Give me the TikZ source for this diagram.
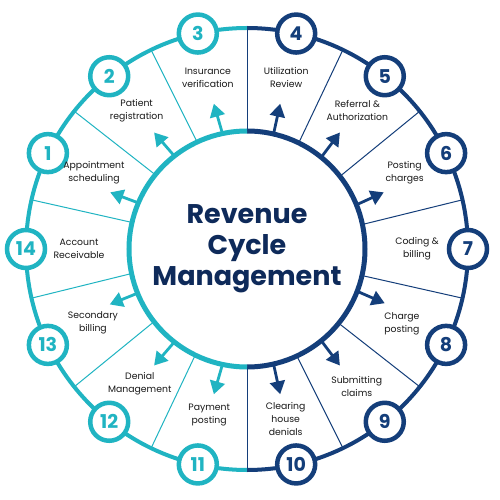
\documentclass[tikz,border=0pt]{standalone}
\usepackage{fontspec}
\setmainfont{Poppins}
\usetikzlibrary{arrows.meta}
\newlength{\du}
\setlength{\du}{1pt}
\definecolor{rcmteal}{RGB}{32,180,194}
\definecolor{rcmnavy}{RGB}{20,62,122}
\definecolor{rcmtitle}{RGB}{14,42,90}
\definecolor{rcmtext}{RGB}{25,25,25}

\begin{document}
\begin{tikzpicture}[
  hub/.style={circle,fill=white,minimum size=236\du,inner sep=0pt,outer sep=0pt,align=center,text=rcmtitle,font=\fontsize{27}{31}\selectfont\bfseries},
  num/.style={circle,fill=white,line width=4.5\du,minimum size=38\du,inner sep=0pt,font=\fontsize{19}{19}\selectfont\bfseries},
  tealnum/.style={num,draw=rcmteal,text=rcmteal},
  navynum/.style={num,draw=rcmnavy,text=rcmnavy},
  lbl/.style={align=center,text=rcmtext,font=\fontsize{9.3}{13}\selectfont,inner sep=0pt},
  spoke/.style={line width=1\du},
  tealarr/.style={rcmteal,line width=2.8\du,-{Triangle[width=15pt,length=13pt]}},
  navyarr/.style={rcmnavy,line width=2.8\du,-{Triangle[width=15pt,length=13pt]}},
]
\useasboundingbox[fill=white] (-247\du,-251\du) rectangle (253\du,249\du);
% outer ring
\draw[rcmnavy,line width=4\du] (-90:221\du) arc[start angle=-90,end angle=90,radius=221\du];
\draw[rcmteal,line width=4\du] (90:221\du) arc[start angle=90,end angle=270,radius=221\du];
% centre
\node[hub] (hub) at (0\du,0\du) {};
\node[hub,fill=none] (title) at (0\du,0\du) {Revenue\\Cycle\\Management};
% spokes
\coordinate (d1) at (12.857:221\du);
\coordinate (d2) at (38.571:221\du);
\coordinate (d3) at (64.286:221\du);
\coordinate (d4) at (90:221\du);
\coordinate (d5) at (115.714:221\du);
\coordinate (d6) at (141.429:221\du);
\coordinate (d7) at (167.143:221\du);
\coordinate (d8) at (192.857:221\du);
\coordinate (d9) at (218.571:221\du);
\coordinate (d10) at (244.286:221\du);
\coordinate (d11) at (270:221\du);
\coordinate (d12) at (295.714:221\du);
\coordinate (d13) at (321.429:221\du);
\coordinate (d14) at (347.143:221\du);
\draw[spoke,rcmnavy] (hub.12.857) -- (d1);
\draw[spoke,rcmnavy] (hub.38.571) -- (d2);
\draw[spoke,rcmnavy] (hub.64.286) -- (d3);
\draw[spoke,rcmnavy] (hub.90) -- (d4);
\draw[spoke,rcmteal] (hub.115.714) -- (d5);
\draw[spoke,rcmteal] (hub.141.429) -- (d6);
\draw[spoke,rcmteal] (hub.167.143) -- (d7);
\draw[spoke,rcmteal] (hub.192.857) -- (d8);
\draw[spoke,rcmteal] (hub.218.571) -- (d9);
\draw[spoke,rcmteal] (hub.244.286) -- (d10);
\draw[spoke,rcmnavy] (hub.270) -- (d11);
\draw[spoke,rcmnavy] (hub.295.714) -- (d12);
\draw[spoke,rcmnavy] (hub.321.429) -- (d13);
\draw[spoke,rcmnavy] (hub.347.143) -- (d14);
% arrows
\coordinate (t1) at (157.5:148\du);
\coordinate (t2) at (128.571:149\du);
\coordinate (t3) at (102.857:149\du);
\coordinate (t4) at (77.143:149\du);
\coordinate (t5) at (51.429:149\du);
\coordinate (t6) at (22.5:148\du);
\coordinate (t8) at (-21.5:148\du);
\coordinate (t9) at (-51.429:149\du);
\coordinate (t10) at (-77.143:149\du);
\coordinate (t11) at (-102.857:149\du);
\coordinate (t12) at (-128.571:149\du);
\coordinate (t13) at (-158:148\du);
\draw[tealarr] (hub.157.5) -- (t1);
\draw[tealarr] (hub.128.571) -- (t2);
\draw[tealarr] (hub.102.857) -- (t3);
\draw[navyarr] (hub.77.143) -- (t4);
\draw[navyarr] (hub.51.429) -- (t5);
\draw[navyarr] (hub.22.5) -- (t6);
\draw[navyarr] (hub.-21.5) -- (t8);
\draw[navyarr] (hub.-51.429) -- (t9);
\draw[navyarr] (hub.-77.143) -- (t10);
\draw[tealarr] (hub.-102.857) -- (t11);
\draw[tealarr] (hub.-128.571) -- (t12);
\draw[tealarr] (hub.-158) -- (t13);
% hub rim
\draw[rcmnavy,line width=5\du] (hub.-90) arc[start angle=-90,end angle=90,radius=118\du];
\draw[rcmteal,line width=5\du] (hub.90) arc[start angle=90,end angle=270,radius=118\du];
% step numbers
\node[tealnum] (n1) at (154.286:221\du) {1};
\node[tealnum] (n2) at (128.571:221\du) {2};
\node[tealnum] (n3) at (102.857:221\du) {3};
\node[navynum] (n4) at (77.143:221\du) {4};
\node[navynum] (n5) at (51.429:221\du) {5};
\node[navynum] (n6) at (25.714:221\du) {6};
\node[navynum] (n7) at (0:221\du) {7};
\node[navynum] (n8) at (-25.714:221\du) {8};
\node[navynum] (n9) at (-51.429:221\du) {9};
\node[navynum] (n10) at (-77.143:221\du) {10};
\node[tealnum] (n11) at (-102.857:221\du) {11};
\node[tealnum] (n12) at (-128.571:221\du) {12};
\node[tealnum] (n13) at (-154.286:221\du) {13};
\node[tealnum] (n14) at (180:221\du) {14};
% step labels
\node[lbl] (l1) at (153.5:171\du) {Appointment\\scheduling};
\node[lbl] (l2) at (128.571:177\du) {Patient\\registration};
\node[lbl] (l3) at (102.857:176\du) {Insurance\\verification};
\node[lbl] (l4) at (77.143:176\du) {Utilization\\Review};
\node[lbl] (l5) at (51.429:177\du) {Referral \&\\Authorization};
\node[lbl] (l6) at (25.714:175\du) {Posting\\charges};
\node[lbl] (l7) at (0:170\du) {Coding \&\\billing};
\node[lbl] (l8) at (-25.714:172\du) {Charge\\posting};
\node[lbl] (l9) at (-51.429:176\du) {Submitting\\claims};
\node[lbl] (l10) at (-77.143:174\du) {Clearing\\house\\denials};
\node[lbl] (l11) at (-102.857:170\du) {Payment\\posting};
\node[lbl] (l12) at (-128.571:172\du) {Denial\\Management};
\node[lbl] (l13) at (-154.286:171\du) {Secondary\\billing};
\node[lbl] (l14) at (180:168\du) {Account\\Receivable};
\end{tikzpicture}
\end{document}
